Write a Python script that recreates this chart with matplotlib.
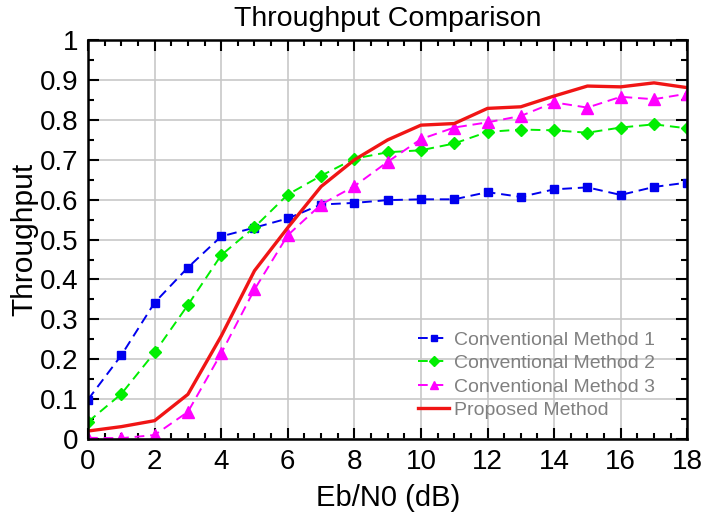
import matplotlib.pyplot as plt
import numpy as np
from matplotlib.ticker import MultipleLocator, FuncFormatter

plt.rcParams['font.family'] = ['Liberation Sans', 'DejaVu Sans']

# data
ebn0 = list(range(0, 19))
method1 = [0.099, 0.21, 0.342, 0.43, 0.508, 0.53, 0.553, 0.588, 0.592, 0.599, 0.601, 0.601,
           0.619, 0.607, 0.626, 0.631, 0.612, 0.632, 0.643]
method2 = [0.043, 0.113, 0.217, 0.336, 0.461, 0.531, 0.613, 0.66, 0.703, 0.719, 0.724, 0.741,
           0.770, 0.776, 0.774, 0.768, 0.781, 0.789, 0.779]
method3 = [0.003, 0.002, 0.01, 0.068, 0.215, 0.375, 0.511, 0.588, 0.634, 0.695, 0.752, 0.781,
           0.794, 0.81, 0.844, 0.831, 0.858, 0.852, 0.866]
proposed = [0.02, 0.031, 0.046, 0.112, 0.258, 0.422, 0.53, 0.633, 0.70, 0.75, 0.787, 0.791,
            0.829, 0.833, 0.86, 0.885, 0.883, 0.893, 0.881]
labels = ['Conventional Method 1', 'Conventional Method 2', 'Conventional Method 3', 'Proposed Method']

fig = plt.figure(figsize=(7.1, 5.22), dpi=100)
ax = fig.add_axes([0.124, 0.159, 0.844, 0.764])

ax.plot(ebn0, method1, '--s', color='#0000ee', lw=1.4, markersize=5.5, dashes=(5, 3), label=labels[0])
ax.plot(ebn0, method2, '--D', color='#00ee00', lw=1.4, markersize=6, dashes=(5, 3), label=labels[1])
ax.plot(ebn0, method3, '--^', color='#ff00ff', lw=1.4, markersize=8, dashes=(5, 3), label=labels[2])
ax.plot(ebn0, proposed, '-', color='#f01515', lw=2.4, label=labels[3])

ax.set_xlim(0, 18)
ax.set_ylim(0, 1)
ax.xaxis.set_major_locator(MultipleLocator(2))
ax.xaxis.set_minor_locator(MultipleLocator(0.5))
ax.yaxis.set_major_locator(MultipleLocator(0.1))
ax.yaxis.set_minor_locator(MultipleLocator(0.05))
ax.yaxis.set_major_formatter(FuncFormatter(lambda v, p: '%g' % round(v, 2)))

ax.tick_params(which='both', direction='in', top=True, right=True, labelsize=20, width=1.5)
ax.tick_params(which='major', length=8, pad=7)
ax.tick_params(which='minor', length=4)
for s in ax.spines.values():
    s.set_linewidth(1.8)

ax.grid(True, which='major', color='#c8c8c8', linestyle='-', linewidth=1.2)
ax.set_axisbelow(True)

ax.set_title('Throughput Comparison', fontsize=20.5, pad=10)
ax.set_xlabel('Eb/N0 (dB)', fontsize=21, labelpad=7)
ax.set_ylabel('Throughput', fontsize=21.5, labelpad=1)

leg = ax.legend(loc='lower left', bbox_to_anchor=(0.551, 0.05), frameon=False, fontsize=14,
                handlelength=1.6, handletextpad=0.25, labelspacing=0.3, markerscale=0.8,
                borderaxespad=0, borderpad=0)
for t in leg.get_texts():
    t.set_color('#808080')

fig.savefig('out.png', dpi=100)
